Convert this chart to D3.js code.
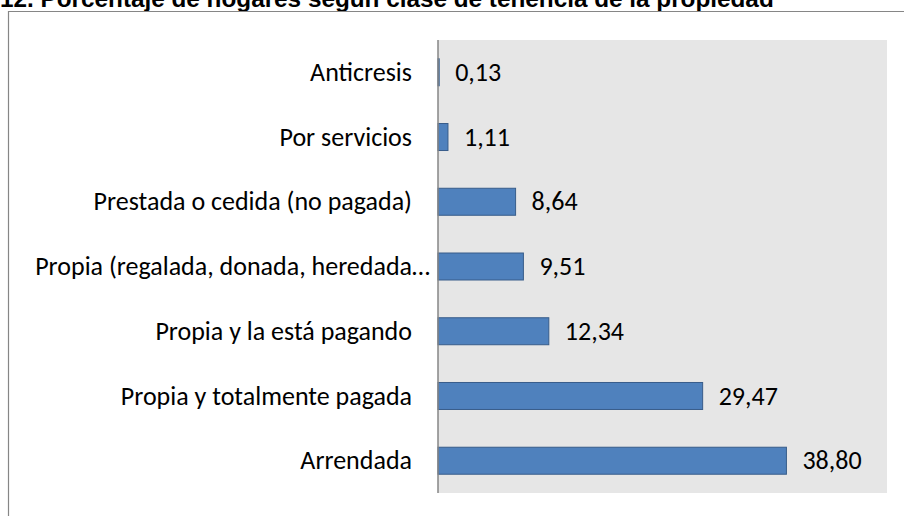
<!DOCTYPE html>
<html>
<head>
<meta charset="utf-8">
<script src="https://cdn.jsdelivr.net/npm/d3@7"></script>
<style>
  html, body { margin: 0; padding: 0; background: #fff; }
  svg { display: block; }
</style>
</head>
<body>
<svg id="chart" width="904" height="516"></svg>
<script>
var chartTitle = "12. Porcentaje de hogares según clase de tenencia de la propiedad";
var categories = ["Anticresis", "Por servicios", "Prestada o cedida (no pagada)",
    "Propia (regalada, donada, heredada…", "Propia y la está pagando",
    "Propia y totalmente pagada", "Arrendada"];
var values = [0.13, 1.11, 8.64, 9.51, 12.34, 29.47, 38.80];
var xDomain = [0, 50];

var svg = d3.select("#chart");
var labelFont = "Carlito, Calibri, 'Open Sans', sans-serif";

// plot area
var plotL = 438, plotR = 887, plotT = 40, plotB = 493;

var x = d3.scaleLinear().domain(xDomain).range([plotL, plotR]);
var y = d3.scaleBand().domain(categories).range([plotT, plotB])
    .paddingInner(0.583).paddingOuter(0.29);

// title (cut at the top like the picture)
svg.append("text")
    .attr("x", 0)
    .attr("y", 7)
    .attr("font-family", "'Liberation Sans', Arial, sans-serif")
    .attr("font-weight", "bold")
    .attr("font-size", 24.3)
    .attr("fill", "#000")
    .text(chartTitle);

// outer frame (top + left edge)
svg.append("path")
    .attr("d", "M904,11.5H8.5V516")
    .attr("fill", "none")
    .attr("stroke", "#868686")
    .attr("stroke-width", 1.2);

svg.append("rect")
    .attr("x", plotL).attr("y", plotT)
    .attr("width", plotR - plotL).attr("height", plotB - plotT)
    .attr("fill", "#e6e6e6");

svg.selectAll("rect.bar")
    .data(values)
    .enter()
    .append("rect")
    .attr("class", "bar")
    .attr("x", x(0))
    .attr("y", function(d, i) { return y(categories[i]); })
    .attr("width", function(d) { return x(d) - x(0); })
    .attr("height", y.bandwidth())
    .attr("fill", "#4f81bd")
    .attr("stroke", "#385d8a")
    .attr("stroke-width", 1);

// axis line
svg.append("line")
    .attr("x1", plotL).attr("x2", plotL)
    .attr("y1", plotT).attr("y2", plotB)
    .attr("stroke", "#868686")
    .attr("stroke-width", 1.5);

// category labels
svg.selectAll("text.cat")
    .data(categories)
    .enter()
    .append("text")
    .attr("class", "cat")
    .attr("x", function(d, i) { return i == 3 ? 430 : plotL - 26; })
    .attr("y", function(d) { return y(d) + y.bandwidth() / 2; })
    .attr("dy", "0.33em")
    .attr("text-anchor", "end")
    .attr("font-family", labelFont)
    .attr("font-size", 26)
    .attr("fill", "#000")
    .text(function(d) { return d; });

// value labels
var fmt = function(v) { return d3.format(".2f")(v).replace(".", ","); };
svg.selectAll("text.val")
    .data(values)
    .enter()
    .append("text")
    .attr("class", "val")
    .attr("x", function(d) { return x(d) + 16; })
    .attr("y", function(d, i) { return y(categories[i]) + y.bandwidth() / 2; })
    .attr("dy", "0.33em")
    .attr("font-family", labelFont)
    .attr("font-size", 26)
    .attr("fill", "#000")
    .text(fmt);
</script>
</body>
</html>
